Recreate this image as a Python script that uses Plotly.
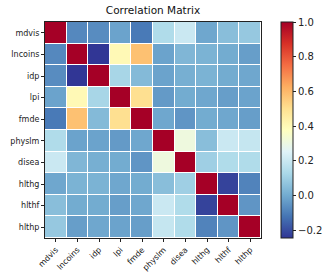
import plotly.graph_objects as go

labels = ["mdvis", "lncoins", "idp", "lpi", "fmde", "physlm", "disea", "hlthg", "hlthf", "hlthp"]

# lower-triangle correlation values (row i, columns 0..i-1)
r_lncoins = [-0.08]
r_idp = [-0.07, -0.246]
r_lpi = [-0.02, 0.40, 0.12]
r_fmde = [-0.11, 0.58, 0.04, 0.50]
r_physlm = [0.14, -0.02, -0.02, -0.04, -0.01]
r_disea = [0.20, 0.03, 0.01, 0.00, -0.05, 0.31]
r_hlthg = [-0.01, 0.02, 0.02, -0.01, 0.00, 0.05, 0.10]
r_hlthf = [0.05, 0.00, 0.00, -0.03, -0.01, 0.20, 0.14, -0.22]
r_hlthp = [0.08, -0.03, -0.01, -0.02, -0.03, 0.19, 0.14, -0.09, -0.05]

lower = [[], r_lncoins, r_idp, r_lpi, r_fmde, r_physlm, r_disea, r_hlthg, r_hlthf, r_hlthp]
n = len(labels)
z = [[1.0] * n for _ in range(n)]
for i, row in enumerate(lower):
    for j, v in enumerate(row):
        z[i][j] = v
        z[j][i] = v

zmin = min(min(r) for r in z)

rdylbu_r = ["#313695", "#4575b4", "#74add1", "#abd9e9", "#e0f3f8", "#ffffbf",
            "#fee090", "#fdae61", "#f46d43", "#d73027", "#a50026"]
cscale = [[k / 10, c] for k, c in enumerate(rdylbu_r)]

L, R, T, B = 45, 261, 22, 238
W, H = 329, 280

fig = go.Figure(go.Heatmap(
    z=z, x=labels, y=labels, colorscale=cscale, zmin=zmin, zmax=1.0,
    xgap=1, ygap=1,
    colorbar=dict(
        x=(281 - L) / (R - L), xanchor="left", xpad=0, ypad=0,
        y=0.5, yanchor="middle", len=1.0, lenmode="fraction",
        thickness=12, outlinewidth=1, outlinecolor="#222",
        tickvals=[-0.2, 0.0, 0.2, 0.4, 0.6, 0.8, 1.0],
        ticktext=["\u22120.2", "0.0", "0.2", "0.4", "0.6", "0.8", "1.0"],
        ticks="outside", ticklen=3, tickcolor="#222",
        tickfont=dict(family="DejaVu Sans", size=10, color="#222"),
    ),
))

fig.update_layout(
    width=W, height=H,
    margin=dict(l=L, r=W - R, t=T, b=H - B, autoexpand=False),
    paper_bgcolor="white", plot_bgcolor="white",
    title=dict(text="Correlation Matrix", x=(L + R) / 2 / W, xanchor="center",
               y=1 - 10 / H, yanchor="middle",
               font=dict(family="DejaVu Sans", size=10.5, color="#111")),
)
fig.update_xaxes(
    tickangle=-45, tickfont=dict(family="DejaVu Sans", size=8, color="#222"),
    ticks="outside", ticklen=3, tickcolor="#222",
    showline=True, linecolor="#222", linewidth=1, mirror=True, showgrid=False,
    zeroline=False, automargin=False,
)
fig.update_yaxes(
    autorange="reversed", tickfont=dict(family="DejaVu Sans", size=8, color="#222"),
    ticks="outside", ticklen=3, tickcolor="#222",
    showline=True, linecolor="#222", linewidth=1, mirror=True, showgrid=False,
    zeroline=False, automargin=False,
)

fig.write_html("out.html")
